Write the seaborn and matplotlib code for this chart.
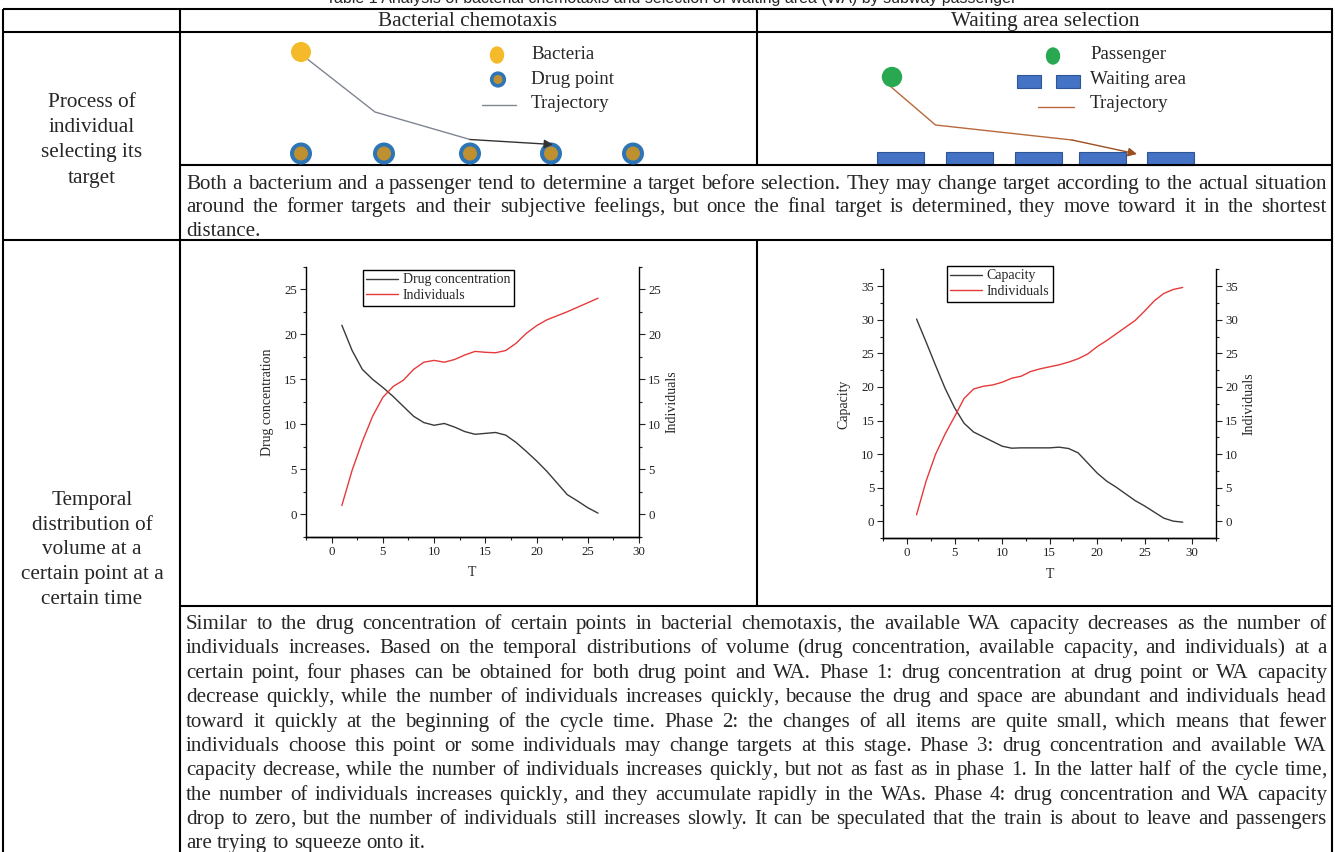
"""
Tabla 1 — quimiotaxis bacteriana vs. selección de zona de espera (WA).
Dibuja la tabla completa con los dos esquemas y las dos curvas temporales.
"""
import matplotlib
matplotlib.use("Agg")
import matplotlib.pyplot as plt
from matplotlib.patches import Circle, Ellipse, Rectangle
from matplotlib.ticker import MultipleLocator
import seaborn as sns

# ── Datos ───────────────────────────────────────────────────────────────
T_drug = list(range(1, 27))
drug_conc = [21.0, 18.2, 16.1, 15.0, 14.1, 13.1, 12.0, 10.9, 10.2, 9.9,
             10.1, 9.7, 9.2, 8.9, 9.0, 9.1, 8.8, 8.0, 7.0, 5.95,
             4.8, 3.5, 2.2, 1.5, 0.75, 0.15]
drug_indiv = [1.0, 4.9, 8.1, 10.9, 13.0, 14.2, 14.9, 16.1, 16.9, 17.1,
              16.9, 17.2, 17.7, 18.1, 18.0, 17.95, 18.2, 19.0, 20.1, 20.95,
              21.6, 22.05, 22.5, 23.0, 23.5, 24.0]

T_wa = list(range(1, 30))
wa_capacity = [30.1, 26.7, 23.2, 19.8, 16.9, 14.6, 13.3, 12.6, 11.9, 11.2,
               10.9, 10.95, 10.95, 10.95, 10.95, 11.05, 10.85, 10.2, 8.7, 7.2,
               6.0, 5.1, 4.1, 3.1, 2.3, 1.4, 0.5, 0.05, -0.1]
wa_indiv = [1.0, 6.0, 10.0, 13.0, 15.6, 18.3, 19.7, 20.1, 20.3, 20.7,
            21.3, 21.6, 22.3, 22.7, 23.0, 23.3, 23.7, 24.2, 24.9, 26.0,
            26.9, 27.9, 28.9, 29.9, 31.3, 32.8, 33.9, 34.5, 34.8]

TITLE = ("Table 1 Analysis of bacterial chemotaxis and selection of waiting area "
         "(WA) by subway passenger")
HEADERS = ["Bacterial chemotaxis", "Waiting area selection"]
ROW1_LABEL = ["Process of", "individual", "selecting its", "target"]
ROW2_LABEL = ["Temporal", "distribution of", "volume at a",
              "certain point at a", "certain time"]
PARA1 = [
    "Both a bacterium and a passenger tend to determine a target before selection. They may change target according to the actual situation",
    "around the former targets and their subjective feelings, but once the final target is determined, they move toward it in the shortest",
    "distance.",
]
PARA2 = [
    "Similar to the drug concentration of certain points in bacterial chemotaxis, the available WA capacity decreases as the number of",
    "individuals increases. Based on the temporal distributions of volume (drug concentration, available capacity, and individuals) at a",
    "certain point, four phases can be obtained for both drug point and WA. Phase 1: drug concentration at drug point or WA capacity",
    "decrease quickly, while the number of individuals increases quickly, because the drug and space are abundant and individuals head",
    "toward it quickly at the beginning of the cycle time. Phase 2: the changes of all items are quite small, which means that fewer",
    "individuals choose this point or some individuals may change targets at this stage. Phase 3: drug concentration and available WA",
    "capacity decrease, while the number of individuals increases quickly, but not as fast as in phase 1. In the latter half of the cycle time,",
    "the number of individuals increases quickly, and they accumulate rapidly in the WAs. Phase 4: drug concentration and WA capacity",
    "drop to zero, but the number of individuals still increases slowly. It can be speculated that the train is about to leave and passengers",
    "are trying to squeeze onto it.",
]

# ── Estilo ──────────────────────────────────────────────────────────────
sns.set_style("ticks")
plt.rcParams["font.family"] = ["Liberation Serif", "DejaVu Serif"]

BLACK = "#3a3a3a"
RED = "#e63a3a"

W, H = 1335, 852
fig = plt.figure(figsize=(W / 100, H / 100), dpi=100)
bg = fig.add_axes([0, 0, 1, 1])
bg.set_xlim(0, W)
bg.set_ylim(H, 0)
bg.axis("off")
renderer = fig.canvas.get_renderer()


def text_width(s, fs):
    t = bg.text(0, 0, s, fontsize=fs)
    w = t.get_window_extent(renderer).width
    t.remove()
    return w


def label(x, y, s, fs, ha="center"):
    # y = centro visual de la línea; se coloca sobre la línea base
    bg.text(x, round(y + 0.33 * fs * 100 / 72), s, ha=ha, va="baseline", fontsize=fs)


def paragraph(lines, x0, x1, ys, fs):
    # texto justificado palabra a palabra, última línea alineada a la izquierda;
    # la coma final va en su propio texto para que no se desplace la palabra
    space = text_width("n n", fs) - text_width("nn", fs)
    comma = text_width(",", fs)
    off = 0.33 * fs * 100 / 72
    for k, (line, y) in enumerate(zip(lines, ys)):
        yb = round(y + off)
        words = line.split()
        texts, widths = [], []
        for w in words:
            core = w[:-1] if w.endswith(",") else w
            t = bg.text(0, yb, core, fontsize=fs, va="baseline", ha="left")
            wd = t.get_window_extent(renderer).width
            c = None
            if core != w:
                c = bg.text(0, yb, ",", fontsize=fs, va="baseline", ha="left")
                wd_total = wd + comma - 1
            else:
                wd_total = wd
            texts.append((t, c, wd))
            widths.append(wd_total)
        if k == len(lines) - 1 or len(words) == 1:
            gap = space
        else:
            gap = (x1 - x0 - sum(widths)) / (len(words) - 1)
        x = x0
        for (t, c, wd), wt in zip(texts, widths):
            t.set_x(x)
            if c is not None:
                c.set_x(x + wd - 1)
            x += wt + gap


# ── Marco de la tabla ───────────────────────────────────────────────────
for y, xa, xb in [(9, 3, 1333), (32, 3, 1333), (165, 180, 1333),
                  (240, 3, 1333), (606, 180, 1333)]:
    bg.plot([xa, xb], [y, y], color="black", lw=1.5, solid_capstyle="butt")
for x, ya, yb in [(3, 9, 852), (180, 9, 852), (1332, 9, 852),
                  (757, 9, 165), (757, 240, 606)]:
    bg.plot([x, x], [ya, yb], color="black", lw=1.5, solid_capstyle="butt")

bg.text(671, 3.5, TITLE, ha="center", va="baseline", fontsize=11.5,
        family=["Liberation Sans", "DejaVu Sans"])
label(468, 19, HEADERS[0], 15.3)
label(1045, 19, HEADERS[1], 15.3)

for s, y in zip(ROW1_LABEL, [100, 125, 150, 175.5]):
    label(92, y, s, 15.3)
for s, y in zip(ROW2_LABEL, [498, 522.5, 547, 572, 597]):
    label(92, y, s, 15.3)

# ── Esquema: quimiotaxis ────────────────────────────────────────────────
bg.add_patch(Circle((301, 52), 9.3, color="#f5ba2a", zorder=3))
for x in [301, 384, 470, 551, 633]:
    bg.add_patch(Circle((x, 153.5), 10.3, color="#2e75b6", zorder=3))
    bg.add_patch(Circle((x, 153.5), 6.3, color="#bf9030", zorder=4))
bg.plot([306, 375, 470], [58, 112, 139.5], color="#7f8591", lw=1.0)
bg.annotate("", xy=(553, 144.5), xytext=(470, 139.5),
            arrowprops=dict(arrowstyle="-|>", color="#333333", lw=1.0,
                            mutation_scale=13, shrinkA=0, shrinkB=0))
bg.add_patch(Ellipse((497, 55), 13, 16, color="#f5ba2a"))
bg.add_patch(Circle((498, 79.5), 7.4, color="#2e75b6"))
bg.add_patch(Circle((498, 79.5), 3.8, color="#bf9030"))
bg.plot([482, 516], [105, 105], color="#7f8591", lw=1.0)
for s, y in zip(["Bacteria", "Drug point", "Trajectory"], [53, 78, 102]):
    label(531, y, s, 13.7, ha="left")

# ── Esquema: zonas de espera ────────────────────────────────────────────
bg.add_patch(Circle((892, 77), 9.5, color="#28a850", zorder=3))
for x in [877, 946, 1015, 1079, 1147]:
    bg.add_patch(Rectangle((x, 152), 47, 13, facecolor="#4472c4",
                           edgecolor="#2f5597", lw=0.8))
bg.plot([890, 935.5, 1072], [86, 125, 140], color="#b8683a", lw=1.0)
bg.annotate("", xy=(1137, 154), xytext=(1072, 140),
            arrowprops=dict(arrowstyle="-|>", color="#9c4f20", lw=1.0,
                            mutation_scale=13, shrinkA=0, shrinkB=0))
bg.add_patch(Ellipse((1053, 56), 13, 16, color="#28a850"))
bg.add_patch(Rectangle((1017, 75), 23.5, 13, facecolor="#4472c4", edgecolor="#2f5597", lw=0.8))
bg.add_patch(Rectangle((1056, 75), 24, 13, facecolor="#4472c4", edgecolor="#2f5597", lw=0.8))
bg.plot([1038, 1074], [107, 107], color="#b8683a", lw=1.0)
for s, y in zip(["Passenger", "Waiting area", "Trajectory"], [53, 78, 102]):
    label(1090, y, s, 13.7, ha="left")


# ── Curvas temporales ───────────────────────────────────────────────────
def chart(rect, T, black, red, black_name, xmax, ymax, legend_xy, lpad):
    ax = fig.add_axes(rect)
    sns.lineplot(x=T, y=black, ax=ax, color=BLACK, lw=1.0, legend=False)
    ax2 = ax.twinx()
    sns.lineplot(x=T, y=red, ax=ax2, color=RED, lw=1.0, legend=False)
    for a in (ax, ax2):
        a.set_xlim(-2.5, xmax)
        a.set_ylim(-2.5, ymax)
        a.yaxis.set_major_locator(MultipleLocator(5))
        a.yaxis.set_minor_locator(MultipleLocator(2.5))
        a.spines["top"].set_visible(False)
        for sp in a.spines.values():
            sp.set_color("black")
            sp.set_linewidth(1.0)
        a.tick_params(which="major", direction="out", length=4.5, width=0.8,
                      labelsize=9.3, pad=2, colors="#222222")
        a.tick_params(which="minor", direction="out", length=2.5, width=0.8,
                      colors="#222222")
    ax.spines["right"].set_visible(False)
    ax2.spines["left"].set_visible(False)
    ax.xaxis.set_major_locator(MultipleLocator(5))
    ax.xaxis.set_minor_locator(MultipleLocator(2.5))
    ax.set_xlabel("T", fontsize=10, labelpad=6)
    ax.set_ylabel(black_name, fontsize=10, labelpad=lpad)
    ax2.set_ylabel("Individuals", fontsize=10, labelpad=3)
    leg = ax2.legend([ax.lines[0], ax2.lines[0]], [black_name, "Individuals"],
                     loc="upper left", bbox_to_anchor=legend_xy,
                     bbox_transform=fig.transFigure, frameon=True, fancybox=False,
                     fontsize=10, borderpad=0.25, labelspacing=0.2,
                     handlelength=2.3, handletextpad=0.3, borderaxespad=0)
    leg.get_frame().set_edgecolor("black")
    leg.get_frame().set_linewidth(1.0)
    leg.get_frame().set_alpha(1)


def frac(x0, x1, ytop, ybot):
    return [x0 / W, 1 - ybot / H, (x1 - x0) / W, (ybot - ytop) / H]


chart(frac(306, 639, 266.7, 537), T_drug, drug_conc, drug_indiv,
      "Drug concentration", 30, 27.5, (363 / W, 1 - 270 / H), 7.5)
chart(frac(883.3, 1216, 269.3, 538.3), T_wa, wa_capacity, wa_indiv,
      "Capacity", 32.5, 37.5, (947 / W, 1 - 266 / H), 8)

# ── Párrafos justificados ───────────────────────────────────────────────
x0, x1 = 186, 1327
widest = max(text_width(s, 13) for s in PARA1[:-1] + PARA2[:-1])
fs = 13 * (x1 - x0) / widest * 0.985
paragraph(PARA1, x0, x1, [182, 205.5, 229], fs)
paragraph(PARA2, x0, x1, [622, 646.5, 671, 695, 720, 744, 768.5, 793, 817, 841.5], fs)

fig.savefig("out.png", dpi=100)
plt.close(fig)
